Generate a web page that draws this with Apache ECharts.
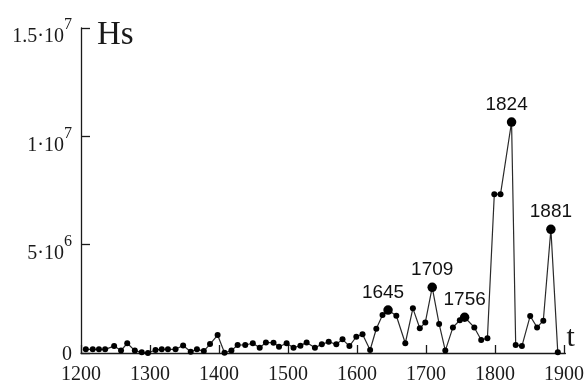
<!DOCTYPE html>
<html>
<head>
<meta charset="utf-8">
<script src="https://cdn.jsdelivr.net/npm/echarts@6/dist/echarts.min.js"></script>
<style>
  html, body { margin: 0; padding: 0; background: #fff; }
  #chart { width: 587px; height: 385px; }
</style>
</head>
<body>
<div id="chart"></div>
<script>
// Year of each observation
const years = [
  1207, 1217, 1226, 1235, 1248, 1258, 1267, 1278, 1288, 1297,
  1308, 1317, 1326, 1337, 1348, 1359, 1368, 1378, 1387, 1398,
  1408, 1418, 1427, 1438, 1449, 1459, 1468, 1479, 1487, 1498,
  1508, 1518, 1527, 1539, 1549, 1559, 1570, 1579, 1589, 1599,
  1608, 1619, 1628, 1637, 1645, 1657, 1670, 1681, 1691, 1699,
  1709, 1719, 1728, 1739, 1749, 1756, 1770, 1780, 1789, 1799,
  1808, 1824, 1830, 1839, 1851, 1861, 1870, 1881, 1891
];

// Hs at each year, in millions
const hsMillions = [
  0.17, 0.17, 0.17, 0.17, 0.32, 0.11, 0.45, 0.11, 0.03, 0.00,
  0.14, 0.17, 0.17, 0.17, 0.35, 0.06, 0.17, 0.09, 0.41, 0.83,
  0.01, 0.11, 0.37, 0.37, 0.45, 0.24, 0.49, 0.47, 0.29, 0.45,
  0.24, 0.34, 0.49, 0.24, 0.40, 0.52, 0.40, 0.63, 0.32, 0.75,
  0.87, 0.14, 1.12, 1.75, 1.98, 1.72, 0.45, 2.06, 1.14, 1.41,
  3.03, 1.34, 0.11, 1.18, 1.51, 1.65, 1.18, 0.60, 0.68, 7.33,
  7.33, 10.66, 0.37, 0.32, 1.71, 1.18, 1.49, 5.71, 0.03
];

// Peaks that carry a year label
const peakYears = [1645, 1709, 1756, 1824, 1881];

// Y tick labels as mantissa · 10^exponent
const yTickValues = [0, 5e6, 1e7, 1.5e7];
const yTickMantissa = ['0', '5', '1', '1.5'];
const yTickExponent = ['', '6', '7', '7'];

const serif = '"Liberation Serif", "Times New Roman", serif';
const sans = '"Liberation Sans", Arial, sans-serif';
const ink = '#1a1a1a';

const labelOffsets = { 1645: [-5, 0], 1824: [-5, 0] };

const seriesData = years.map((yr, i) => {
  const isPeak = peakYears.includes(yr);
  return {
    value: [yr, hsMillions[i] * 1e6],
    symbolSize: isPeak ? 9.5 : 6,
    label: {
      show: isPeak,
      offset: labelOffsets[yr] || [0, 0]
    }
  };
});

const chart = echarts.init(document.getElementById('chart'), null, { renderer: 'canvas' });

chart.setOption({
  animation: false,
  backgroundColor: '#fff',
  grid: { left: 81, right: 17, top: 28, bottom: 32 },
  xAxis: {
    type: 'value',
    min: 1200,
    max: 1902,
    interval: 100,
    name: 't',
    nameLocation: 'end',
    nameGap: 1,
    nameTextStyle: {
      fontFamily: serif, fontSize: 30, color: ink,
      align: 'left', verticalAlign: 'bottom'
    },
    axisLine: { lineStyle: { color: ink, width: 1.3 } },
    axisTick: { inside: true, length: 8, lineStyle: { color: ink, width: 1.3 } },
    splitLine: { show: false },
    axisLabel: {
      margin: 12,
      fontFamily: serif,
      fontSize: 20,
      color: ink,
      showMaxLabel: false,
      formatter: v => (v % 100 === 0 ? String(v) : '')
    }
  },
  yAxis: {
    type: 'value',
    min: 0,
    max: 1.5e7,
    interval: 5e6,
    name: 'Hs',
    nameLocation: 'end',
    nameGap: 9,
    nameTextStyle: {
      fontFamily: serif, fontSize: 33, color: ink,
      align: 'left', verticalAlign: 'top',
      padding: [0, 0, 0, 16]
    },
    axisLine: { show: true, lineStyle: { color: ink, width: 1.3 } },
    axisTick: { show: true, inside: true, length: 9, lineStyle: { color: ink, width: 1.3 } },
    splitLine: { show: false },
    axisLabel: {
      margin: 9,
      padding: [18, 0, 0, 0],
      color: ink,
      formatter: v => {
        const k = yTickValues.indexOf(v);
        if (k < 0) return '';
        if (!yTickExponent[k]) return '{z|' + yTickMantissa[k] + '}';
        return '{m|' + yTickMantissa[k] + '·10}{s|' + yTickExponent[k] + '}';
      },
      rich: {
        m: { fontFamily: serif, fontSize: 20, color: ink },
        s: { fontFamily: serif, fontSize: 16, color: ink, padding: [0, 0, 24, 0] },
        z: { fontFamily: serif, fontSize: 20, color: ink, padding: [0, 0, 14, 0] }
      }
    }
  },
  series: [{
    type: 'line',
    data: seriesData,
    symbol: 'circle',
    showAllSymbol: true,
    lineStyle: { color: '#2a2a2a', width: 1.2 },
    itemStyle: { color: '#000' },
    label: {
      position: 'top',
      distance: 3,
      fontFamily: sans,
      fontSize: 19,
      color: '#111',
      formatter: p => String(p.value[0])
    },
    emphasis: { disabled: true }
  }]
});
</script>
</body>
</html>
